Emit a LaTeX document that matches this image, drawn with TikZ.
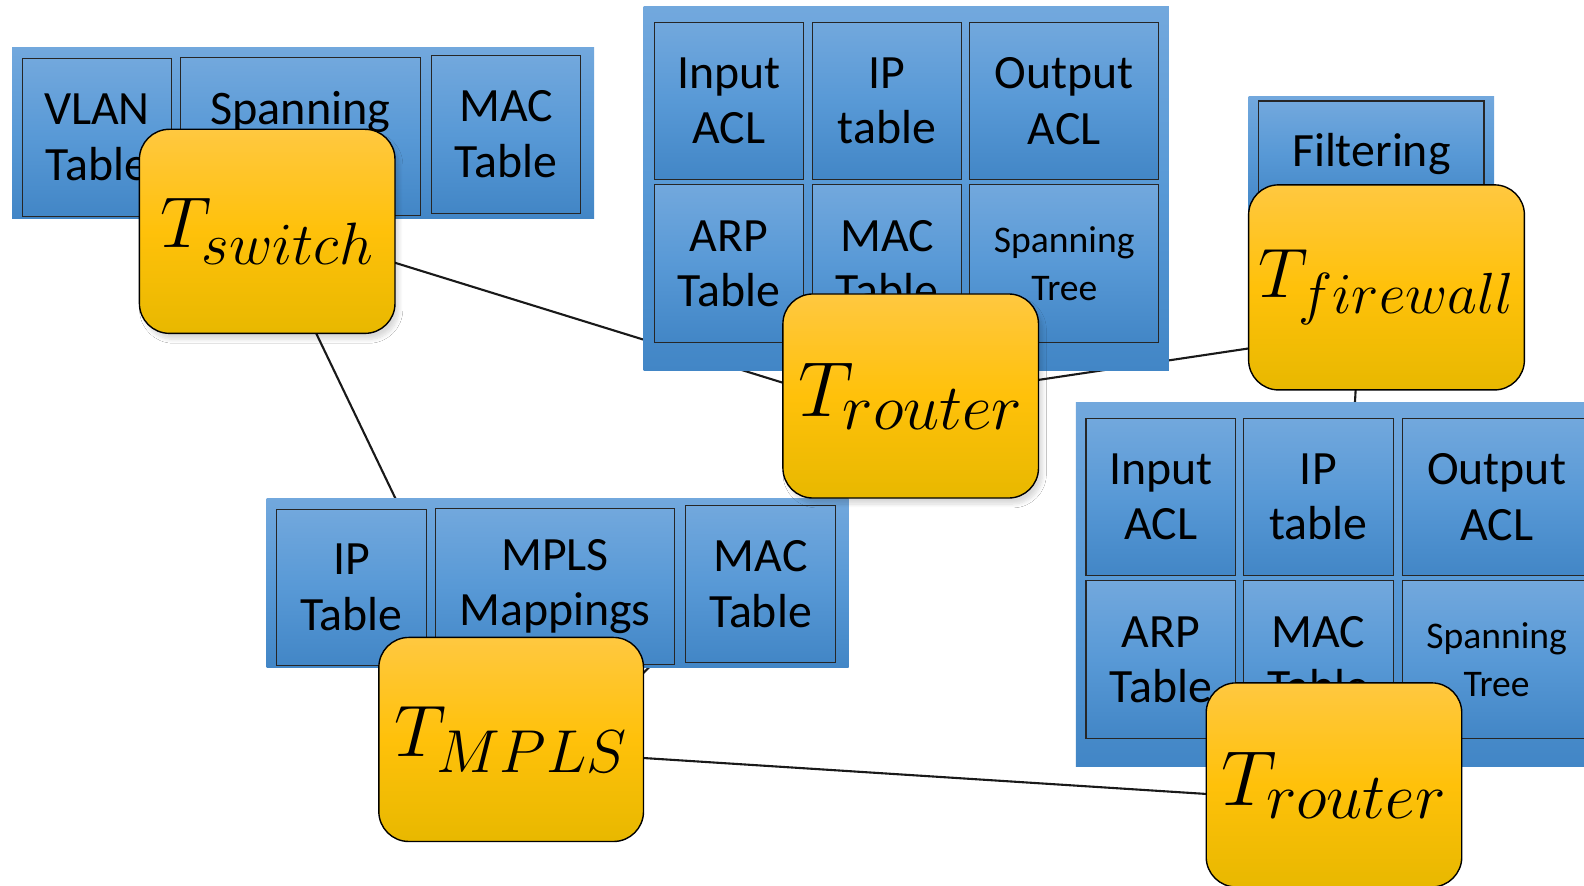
\RequirePackage{fix-cm}
\documentclass[tikz,border=0pt]{standalone}
\usepackage{fontspec}
\setmainfont{Carlito}
\usetikzlibrary{calc,shadows.blur}

% larger subscripts for the element labels
\DeclareMathSizes{36}{36}{29.9}{20}
\DeclareMathSizes{39}{39}{32.4}{22}
\DeclareMathSizes{36.5}{36.5}{30.3}{20}
\DeclareMathSizes{35}{35}{29}{19}

\newlength\pxu
\setlength\pxu{0.5051pt}

\definecolor{bluetop}{RGB}{114,168,221}
\definecolor{bluemid}{RGB}{88,153,214}
\definecolor{bluebot}{RGB}{66,134,198}
\definecolor{goldtop}{RGB}{255,200,64}
\definecolor{goldmid}{RGB}{255,193,10}
\definecolor{goldbot}{RGB}{232,184,0}

\pgfdeclareverticalshading{bluefill}{100bp}{color(0bp)=(bluebot); color(25bp)=(bluebot); color(50bp)=(bluemid); color(75bp)=(bluetop); color(100bp)=(bluetop)}
\pgfdeclareverticalshading{goldfill}{100bp}{color(0bp)=(goldbot); color(25bp)=(goldbot); color(50bp)=(goldmid); color(75bp)=(goldtop); color(100bp)=(goldtop)}

\tikzset{
  wh/.style 2 args={minimum width=#1\pxu, minimum height=#2\pxu},
  grp/.style={shading=bluefill, inner sep=0pt, outer sep=0pt},
  cell/.style={draw=black!85, line width=0.55pt, shading=bluefill, align=center,
    inner sep=0pt, font=\fontsize{23.9}{27.8}\selectfont},
  tbox/.style={draw=black, line width=0.7pt, rounded corners=15pt, shading=goldfill,
    inner sep=0pt, wh={253}{202}},
  soft/.style={blur shadow={shadow xshift=2pt, shadow yshift=-3pt, shadow opacity=15, shadow blur steps=10}},
  link/.style={line width=1.05pt, draw=black!90}
}

\begin{document}
\begin{tikzpicture}[x=0.5051pt, y=-0.5051pt]
\clip (0,0) rectangle (1568,877);
\fill[white] (0,0) rectangle (1568,877);

% centres of the switching elements
\path (264.5,229) coordinate (psw);
\path (901.5,392) coordinate (pr1);
\path (1372.5,284.5) coordinate (pfw);
\path (1320.5,777) coordinate (pr2);
\path (506,732) coordinate (pmp);

% links between the elements, behind everything
\draw[link] ($(psw)+(0,-8)$) -- ($(pr1)+(0,26)$);
\draw[link] (psw) -- (pmp);
\draw[link] ($(pmp)+(0,70)$) -- (pr1);
\draw[link] ($(pr1)+(0,3)$) -- ($(pfw)+(0,40)$);
\draw[link] ($(pfw)+(-25,0)$) -- (pr2);
\draw[link] ($(pmp)+(0,10)$) -- ($(pr2)+(0,17)$);

% switch tables
\node[grp, wh={576}{169}] (gsw) at (300,131.5) {};
\node[cell, wh={148}{156}] (swvlan) at (96,136) {VLAN\\Table};
\node[cell, wh={237}{156}] (swstp) at (297.5,135) {};
\node[anchor=base, inner sep=0pt, font=\fontsize{24.1}{29}\selectfont] (swstptxt) at (297.5,123) {Spanning};
\node[cell, wh={148}{156}] (swmac) at (501,133) {MAC\\Table};

% router tables (upper)
\node[grp, wh={520}{361}] (gra) at (897,186.5) {};
\node[cell, wh={147}{156}] (rain) at (721.5,100) {Input\\ACL};
\node[cell, wh={148}{156}] (raip) at (878,100) {IP\\table};
\node[cell, wh={187}{156}] (raout) at (1053.5,100) {Output\\ACL};
\node[cell, wh={147}{156}] (raarp) at (721.5,261) {ARP\\Table};
\node[cell, wh={148}{156}] (ramac) at (878,261) {MAC\\Table};
\node[cell, wh={187}{156}, font=\fontsize{18.8}{24.2}\selectfont] (rastp) at (1053.5,261) {Spanning\\Tree};

% firewall table
\node[grp, wh={243}{116}] (gfw) at (1357.5,154) {};
\node[cell, wh={223}{104}] (fwfilt) at (1357.5,152) {Filtering};

% router tables (lower)
\node[grp, wh={525}{361}] (grb) at (1327.5,578.5) {};
\node[cell, wh={148}{156}] (rbin) at (1149,492) {Input\\ACL};
\node[cell, wh={148}{156}] (rbip) at (1305,492) {IP\\table};
\node[cell, wh={187}{156}] (rbout) at (1481.5,492) {Output\\ACL};
\node[cell, wh={148}{156}] (rbarp) at (1149,653) {ARP\\Table};
\node[cell, wh={148}{156}] (rbmac) at (1305,653) {MAC\\Table};
\node[cell, wh={187}{156}, font=\fontsize{18.8}{24.2}\selectfont] (rbstp) at (1481.5,653) {Spanning\\Tree};

% MPLS tables
\node[grp, wh={576}{168}] (gmp) at (552,577) {};
\node[cell, wh={148}{155}] (mpip) at (348,581.5) {IP\\Table};
\node[cell, wh={237}{155}] (mpmap) at (549.5,580.5) {MPLS\\Mappings};
\node[cell, wh={148}{156}] (mpmac) at (753,578) {MAC\\Table};

% switching elements
\node[tbox, soft, font=\fontsize{36}{43}\selectfont] (sw) at (psw) {$T_{switch}$};
\node[tbox, soft, font=\fontsize{39}{47}\selectfont] (r1) at (pr1) {$T_{router}$};
\node[tbox, wh={273}{203}, font=\fontsize{35}{42}\selectfont] (fw) at (pfw) {$T_{firewall}$};
\node[tbox, font=\fontsize{39}{47}\selectfont] (r2) at (pr2) {$T_{router}$};
\node[tbox, wh={262}{202}, font=\fontsize{36.5}{44}\selectfont] (mp) at (pmp) {$T_{MPLS}$};
\end{tikzpicture}
\end{document}
